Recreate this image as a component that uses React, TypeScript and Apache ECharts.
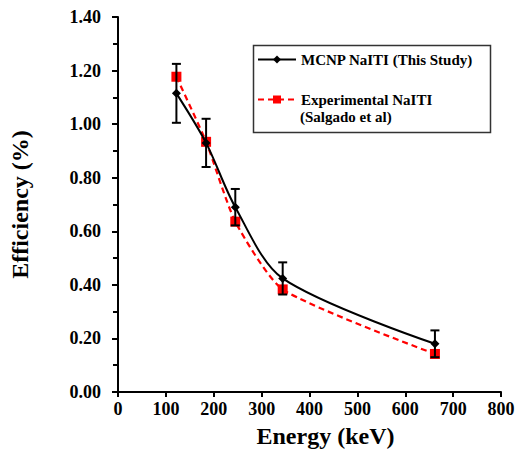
import React, { useEffect, useRef } from "react";
import * as echarts from "echarts";

const energies = [122, 184, 245, 344, 662];
const mcnpEff = [1.115, 0.93, 0.69, 0.424, 0.18];
const mcnpErr = [0.11, 0.09, 0.068, 0.06, 0.05];
const expEff = [1.177, 0.934, 0.636, 0.383, 0.142];
const yTicks = ["0.00", "0.20", "0.40", "0.60", "0.80", "1.00", "1.20", "1.40"];
const seriesNames = ["MCNP NaITI (This Study)", "Experimental NaITI"];
const legendSubLine = "(Salgado et al)";

const FONT = "Liberation Serif";

export default function App() {
  const ref = useRef<HTMLDivElement>(null);
  useEffect(() => {
    const chart = echarts.init(ref.current!, null, { renderer: "svg" });
    const mcnp = energies.map((e, i) => [e, mcnpEff[i]]);
    const exp = energies.map((e, i) => [e, expEff[i]]);
    const errData = energies.map((e, i) => [e, mcnpEff[i] - mcnpErr[i], mcnpEff[i] + mcnpErr[i]]);
    chart.setOption({
      animation: false,
      textStyle: { fontFamily: FONT },
      grid: { left: 115, right: 17, top: 17, bottom: 67, containLabel: false },
      xAxis: {
        type: "value",
        min: 0,
        max: 800,
        interval: 100,
        name: "Energy (keV)",
        nameLocation: "middle",
        nameGap: 32,
        nameTextStyle: {
          fontFamily: FONT,
          fontWeight: "bold",
          fontSize: 24,
          color: "#000",
          padding: [0, 0, 0, 32],
        },
        axisLine: { show: true, lineStyle: { color: "#000", width: 2 } },
        axisTick: { show: true, inside: false, length: 5, lineStyle: { color: "#000", width: 2 } },
        axisLabel: { fontFamily: FONT, fontWeight: "bold", fontSize: 18, color: "#000", margin: 8 },
        splitLine: { show: false },
      },
      yAxis: {
        type: "value",
        min: 0,
        max: 1.4,
        interval: 0.2,
        name: "Efficiency (%)",
        nameLocation: "middle",
        nameGap: 86,
        nameTextStyle: { fontFamily: FONT, fontWeight: "bold", fontSize: 24, color: "#000" },
        axisLine: { show: true, lineStyle: { color: "#000", width: 2 } },
        axisTick: { show: true, inside: false, length: 6, lineStyle: { color: "#000", width: 2 } },
        minorTick: { show: true, splitNumber: 2, length: 5, lineStyle: { color: "#000", width: 2 } },
        axisLabel: {
          fontFamily: FONT,
          fontWeight: "bold",
          fontSize: 18,
          color: "#000",
          margin: 17,
          formatter: (v: number) => yTicks[Math.round(v / 0.2)] ?? v.toFixed(2),
        },
        splitLine: { show: false },
      },
      legend: {
        orient: "vertical",
        left: 257,
        top: 51,
        padding: 0,
        itemWidth: 38,
        itemHeight: 10,
        itemGap: 23,
        textStyle: { fontFamily: FONT, fontWeight: "bold", fontSize: 15, color: "#000", lineHeight: 17 },
        data: seriesNames,
      },
      graphic: [
        {
          type: "rect",
          left: 251,
          top: 43,
          shape: { width: 237, height: 87 },
          style: { fill: "none", stroke: "#333", lineWidth: 1.5 },
          z: 10,
        },
        {
          type: "text",
          left: 300,
          top: 109,
          style: {
            text: legendSubLine,
            fontFamily: FONT,
            fontWeight: "bold",
            fontSize: 15,
            fill: "#000",
          },
          z: 10,
        },
      ],
      series: [
        {
          name: seriesNames[1],
          type: "line",
          data: exp,
          smooth: 0.2,
          symbol: "rect",
          symbolSize: 10,
          itemStyle: { color: "#ff0000" },
          lineStyle: { color: "#ff0000", width: 2.2, type: [6, 4] },
          z: 2,
        },
        {
          name: seriesNames[0],
          type: "line",
          data: mcnp,
          smooth: 0.3,
          symbol: "diamond",
          symbolSize: 9,
          itemStyle: { color: "#000" },
          lineStyle: { color: "#000", width: 2 },
          z: 3,
        },
        {
          name: "err",
          type: "custom",
          data: errData,
          z: 4,
          renderItem: (params: any, api: any) => {
            const x = api.value(0);
            const lo = api.coord([x, api.value(1)]);
            const hi = api.coord([x, api.value(2)]);
            const w = 4.5;
            const style = { stroke: "#000", lineWidth: 2 };
            return {
              type: "group",
              children: [
                { type: "line", shape: { x1: lo[0], y1: lo[1], x2: hi[0], y2: hi[1] }, style },
                { type: "line", shape: { x1: lo[0] - w, y1: lo[1], x2: lo[0] + w, y2: lo[1] }, style },
                { type: "line", shape: { x1: hi[0] - w, y1: hi[1], x2: hi[0] + w, y2: hi[1] }, style },
              ],
            };
          },
        },
      ],
    });
    return () => chart.dispose();
  }, []);
  return (
    <div
      ref={ref}
      style={{ position: "fixed", left: 0, top: 0, width: 518, height: 459, background: "#fff" }}
    />
  );
}
